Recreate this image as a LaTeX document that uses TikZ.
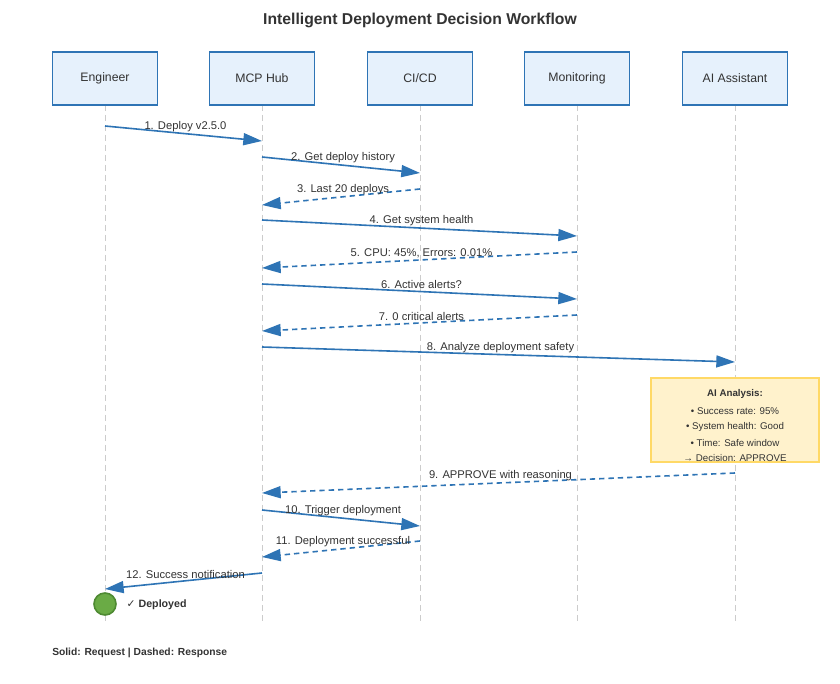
\documentclass[tikz,border=0pt]{standalone}
\usepackage{fontspec}
\setmainfont{Liberation Sans}
\newfontfamily\dejavu{DejaVu Sans}
\usetikzlibrary{arrows.meta,calc}
\definecolor{arr}{HTML}{2E74B5}
\definecolor{boxfill}{HTML}{E6F1FC}
\definecolor{txt}{HTML}{333333}
\definecolor{notefill}{HTML}{FFF2CC}
\definecolor{notedraw}{HTML}{FFD966}
\definecolor{okfill}{HTML}{6AAB45}
\definecolor{okdraw}{HTML}{4E8A32}
\begin{document}
\begin{tikzpicture}[x=0.75pt,y=-0.75pt,
  actor/.style={draw=arr,fill=boxfill,line width=1.2pt,minimum width=78.75pt,minimum height=39.75pt,font=\fontsize{9.2}{10}\selectfont,text=txt},
  life/.style={draw=black!20,dash pattern=on 4.5pt off 3pt,line width=0.75pt},
  req/.style={draw=arr,line width=1.2pt,-{Triangle[length=14pt,width=9pt]}},
  resp/.style={req,dash pattern=on 4pt off 3pt},
  lbl/.style={font=\fontsize{8.4}{9}\selectfont,text=txt,inner sep=0pt},
  note/.style={font=\fontsize{7.3}{9}\selectfont,text=txt,inner sep=0pt}]
\useasboundingbox (0,0) rectangle (840,684);
\fill[white] (0,0) rectangle (840,684);
\node[font=\bfseries\fontsize{11.8}{13}\selectfont,text=txt] (title) at (420,20) {Intelligent Deployment Decision Workflow};
\newcommand\actorat[3]{%
  \coordinate (#1top) at (#2,105);
  \coordinate (#1bot) at (#2,625);
  \draw[life] (#1top) -- (#1bot);
  \node[actor] (#1) at (#2,78.5) {#3};}
\actorat{E}{105}{Engineer}
\actorat{H}{262}{MCP Hub}
\actorat{C}{420}{CI/CD}
\actorat{M}{577}{Monitoring}
\actorat{A}{735}{AI Assistant}
\newcommand\msg[7]{%
  \coordinate (#6s) at (#2,#3); \coordinate (#6e) at (#4,#5);
  \draw[#1] (#6s) -- (#6e);
  \node[lbl] (#6l) at ($(#6s)!0.5!(#6e)+(2,-7)$) {#7};}
\msg{req}{105}{126}{262}{141}{m1}{1. Deploy v2.5.0}
\msg{req}{262}{157}{420}{173}{m2}{2. Get deploy history}
\msg{resp}{420}{189}{262}{205}{m3}{3. Last 20 deploys}
\msg{req}{262}{220}{577}{236}{m4}{4. Get system health}
\msg{resp}{577}{252}{262}{268}{m5}{5. CPU: 45\%, Errors: 0.01\%}
\msg{req}{262}{284}{577}{299}{m6}{6. Active alerts?}
\msg{resp}{577}{315}{262}{331}{m7}{7. 0 critical alerts}
\msg{req}{262}{347}{735}{362}{m8}{8. Analyze deployment safety}
\node[draw=notedraw,fill=notefill,line width=0.9pt,minimum width=126pt,minimum height=63pt] (box) at (735,420) {};
\node[note,font=\bfseries\fontsize{7.3}{9}\selectfont] at (735,394) {AI Analysis:};
\node[note] at (735,411) {• Success rate: 95\%};
\node[note] at (735,427) {• System health: Good};
\node[note] at (735,443) {• Time: Safe window};
\node[note] at (735,458) {→ Decision: APPROVE};
\msg{resp}{735}{473}{262}{493}{m9}{9. APPROVE with reasoning}
\msg{req}{262}{510}{420}{526}{m10}{10. Trigger deployment}
\msg{resp}{420}{541}{262}{557}{m11}{11. Deployment successful}
\msg{req}{262}{573}{105}{589}{m12}{12. Success notification}
\node[circle,draw=okdraw,fill=okfill,line width=1.2pt,minimum size=16.5pt,inner sep=0pt] (done) at (105,604) {};
\node[anchor=west,font=\bfseries\fontsize{8}{9}\selectfont,text=txt] (dl) at (122,605) {{\dejavu ✓} Deployed};
\node[anchor=west,font=\bfseries\fontsize{7.7}{9}\selectfont,text=txt,inner sep=0pt] (foot) at (52,653) {Solid: Request | Dashed: Response};
\end{tikzpicture}
\end{document}
